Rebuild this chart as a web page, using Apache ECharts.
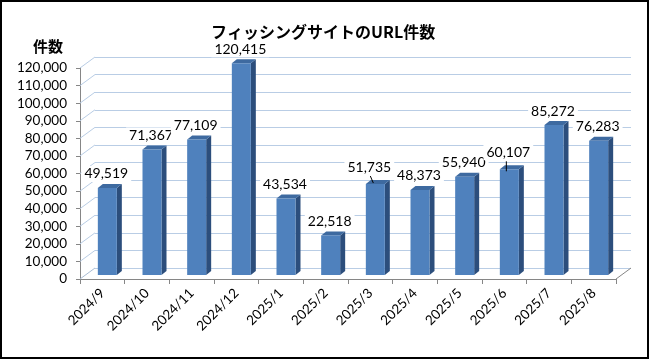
<!DOCTYPE html>
<html><head><meta charset="utf-8">
<script src="https://cdn.jsdelivr.net/npm/echarts@6/dist/echarts.min.js"></script>
<style>html,body{margin:0;padding:0;background:#fff}#c{width:650px;height:360px}</style>
</head><body><div id="c"></div>
<script>
const categories = ['2024/9','2024/10','2024/11','2024/12','2025/1','2025/2','2025/3','2025/4','2025/5','2025/6','2025/7','2025/8'];
const values = [49519,71367,77109,120415,43534,22518,51735,48373,55940,60107,85272,76283];
const yTicks = [0,10000,20000,30000,40000,50000,60000,70000,80000,90000,100000,110000,120000];
const titleText = 'フィッシングサイトのURL件数';
const yName = '件数';

const FONT = 'Lato, "Noto Sans", sans-serif';
const GRID_BLUE = '#b9cde5';
const AXIS_GRAY = '#868686';
const DEPTH = [15, -11];          // wall depth
const BAR_OFF = [5, -4];          // bar placement inside depth
const BAR_SIDE = [5, -4];         // bar own depth
const BAR_W = 19;
const labelNudge = {
  6: {dx: -5, dy: -3, leader: [[1, 9], [-2, -1]]},
  9: {dx: 0, dy: -3, leader: [[-2, 9], [-3, 2]]}
};
const fmt = v => v.toLocaleString('en-US');

const chart = echarts.init(document.getElementById('c'));

function renderBar(params, api) {
  const i = api.value(0), v = api.value(1);
  const top = api.coord([i, v]);
  const base = api.coord([i, 0]);
  const cx = top[0] + BAR_OFF[0];
  const xl = cx - BAR_W / 2, xr = cx + BAR_W / 2;
  const yt = top[1] + BAR_OFF[1], yb = base[1] + BAR_OFF[1];
  const sx = BAR_SIDE[0], sy = BAR_SIDE[1];
  const children = [
    {type: 'polygon', shape: {points: [[xr, yt], [xr + sx, yt + sy], [xr + sx, yb + sy], [xr, yb]]},
      style: {fill: '#2c4e7c'}},
    {type: 'polygon', shape: {points: [[xl, yt], [xr, yt], [xr + sx, yt + sy], [xl + sx, yt + sy]]},
      style: {fill: '#3e6aa0'}},
    {type: 'rect', shape: {x: xl, y: yt, width: BAR_W, height: yb - yt},
      style: {fill: '#4f81bd'}}
  ];
  const n = labelNudge[i] || {dx: 0, dy: 0};
  const lx = cx - 1 + n.dx, ly = yt - 14 + n.dy;
  if (n.leader) {
    children.push({type: 'line', shape: {x1: lx + n.leader[0][0], y1: ly + n.leader[0][1], x2: cx + n.leader[1][0], y2: yt + n.leader[1][1]},
      style: {stroke: '#000', lineWidth: 1}, z2: 5});
  }
  children.push({type: 'text', z2: 10, style: {text: fmt(v), x: lx, y: ly, align: 'center', verticalAlign: 'middle',
    font: '14px ' + FONT, fill: '#000', backgroundColor: '#fff', padding: [1, 3, 1, 3]}});
  return {type: 'group', children};
}

function renderWall(params, api) {
  const v = api.value(0);
  const cs = params.coordSys;
  const p = api.coord([0, v]);
  const x0 = cs.x, y = p[1];
  const children = [{type: 'line', shape: {x1: x0, y1: y, x2: x0 + DEPTH[0], y2: y + DEPTH[1]},
    style: {stroke: v === 0 ? '#a9bcd4' : GRID_BLUE, lineWidth: 1}}];
  if (v === 0) {
    const xr = cs.x + cs.width;
    children.push({type: 'line', shape: {x1: xr, y1: y, x2: xr + DEPTH[0], y2: y + DEPTH[1]},
      style: {stroke: AXIS_GRAY, lineWidth: 1}});
  }
  return {type: 'group', children};
}

const front = {left: 80, top: 68, width: 536, height: 211};
const back = {left: 80 + DEPTH[0], top: 68 + DEPTH[1], width: 536, height: 211};

chart.setOption({
  animation: false,
  backgroundColor: '#fff',
  title: {text: titleText, left: 206, top: 19,
    textStyle: {fontFamily: '"Noto Sans CJK JP"', fontWeight: 'bold', fontSize: 16, color: '#000'}},
  graphic: [
    {type: 'text', left: 33, top: 39, style: {text: yName, font: 'bold 15px "Noto Sans CJK JP"', fill: '#000'}},
    {type: 'rect', shape: {x: 1, y: 1, width: 647, height: 357}, style: {fill: 'none', stroke: '#000', lineWidth: 2}, z: 100}
  ],
  grid: [
    Object.assign({containLabel: false}, front),
    Object.assign({containLabel: false}, back)
  ],
  xAxis: [
    {type: 'category', gridIndex: 0, data: categories,
      axisLine: {lineStyle: {color: AXIS_GRAY}},
      axisTick: {show: true, length: 5, lineStyle: {color: AXIS_GRAY}},
      axisLabel: {rotate: 45, margin: 12, fontFamily: FONT, fontSize: 13.5, color: '#000', interval: 0}},
    {type: 'category', gridIndex: 1, data: categories, show: true,
      axisLine: {show: false}, axisTick: {show: false}, axisLabel: {show: false}}
  ],
  yAxis: [
    {type: 'value', gridIndex: 0, min: 0, max: 120000, interval: 10000,
      axisLine: {show: true, lineStyle: {color: AXIS_GRAY}},
      axisTick: {show: true, length: 4, lineStyle: {color: AXIS_GRAY}},
      splitLine: {show: false},
      axisLabel: {margin: 13, fontFamily: FONT, fontSize: 13.5, color: '#000', formatter: v => fmt(v)}},
    {type: 'value', gridIndex: 1, min: 0, max: 120000, interval: 10000,
      axisLine: {show: false}, axisTick: {show: false}, axisLabel: {show: false},
      splitLine: {show: true, lineStyle: {color: GRID_BLUE, width: 1}}}
  ],
  series: [
    {type: 'custom', xAxisIndex: 0, yAxisIndex: 0, z: 1, silent: true,
      data: yTicks.map(v => [v]), encode: {y: 0}, renderItem: renderWall},
    {type: 'custom', xAxisIndex: 0, yAxisIndex: 0, z: 3, silent: true,
      data: values.map((v, i) => [i, v]), encode: {x: 0, y: 1}, renderItem: renderBar}
  ]
});
</script></body></html>
